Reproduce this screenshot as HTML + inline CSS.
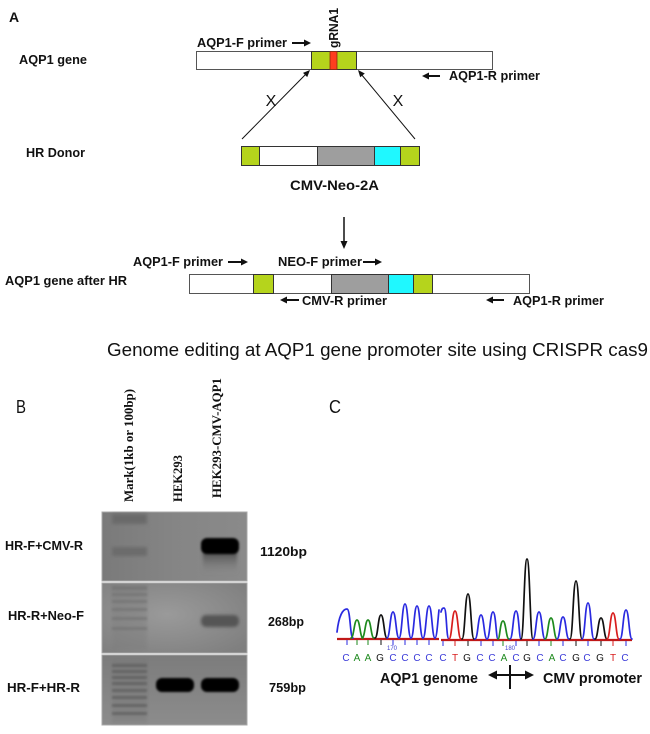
<!DOCTYPE html>
<html>
<head>
<meta charset="utf-8">
<style>
  html,body{margin:0;padding:0;background:#fff;}
  svg{display:block;}
  .b{font-family:"Liberation Sans",Arial,sans-serif;font-weight:bold;fill:#111;}
  .r{font-family:"Liberation Sans",Arial,sans-serif;fill:#111;}
  .s{font-family:"Liberation Serif","Times New Roman",serif;font-weight:bold;fill:#111;}
</style>
</head>
<body>
<svg width="650" height="734" viewBox="0 0 650 734" xmlns="http://www.w3.org/2000/svg">
  <defs>
    <filter id="bl1" x="-20%" y="-50%" width="140%" height="200%"><feGaussianBlur stdDeviation="1"/></filter>
    <filter id="bl2" x="-20%" y="-50%" width="140%" height="200%"><feGaussianBlur stdDeviation="1.6"/></filter>
    <filter id="bl3" x="-20%" y="-50%" width="140%" height="200%"><feGaussianBlur stdDeviation="2.5"/></filter>
    <linearGradient id="g1" x1="0" y1="0" x2="1" y2="0">
      <stop offset="0" stop-color="#7a7a7a"/><stop offset="0.5" stop-color="#858585"/><stop offset="1" stop-color="#8a8a8a"/>
    </linearGradient>
    <radialGradient id="g2" cx="0.45" cy="0.45" r="0.7">
      <stop offset="0" stop-color="#9a9a9a"/><stop offset="1" stop-color="#7f7f7f"/>
    </radialGradient>
    <linearGradient id="g3" x1="0" y1="0" x2="0" y2="1">
      <stop offset="0" stop-color="#7c7c7c"/><stop offset="1" stop-color="#8c8c8c"/>
    </linearGradient>
    <linearGradient id="smear" x1="0" y1="0" x2="0" y2="1">
      <stop offset="0" stop-color="#404040"/><stop offset="1" stop-color="#828282" stop-opacity="0"/>
    </linearGradient>
  </defs>

  <!-- ===== Panel A ===== -->
  <text class="b" x="9" y="22" font-size="14">A</text>
  <text class="b" x="19" y="64" font-size="12.5" textLength="68" lengthAdjust="spacingAndGlyphs">AQP1 gene</text>
  <text class="b" x="197" y="47" font-size="12.5" textLength="90" lengthAdjust="spacingAndGlyphs">AQP1-F primer</text>
  <line x1="292" y1="43" x2="305" y2="43" stroke="#111" stroke-width="2"/>
  <polygon points="304,39.5 311,43 304,46.5" fill="#111"/>
  <text class="b" transform="translate(338,48) rotate(-90)" font-size="12.5" textLength="40" lengthAdjust="spacingAndGlyphs">gRNA1</text>

  <rect x="196.5" y="51.5" width="296" height="18" fill="#fff" stroke="#555" stroke-width="1"/>
  <rect x="311.5" y="51.5" width="45" height="18" fill="#b5d41c" stroke="#333" stroke-width="1"/>
  <rect x="330" y="51.5" width="7" height="18" fill="#ff3d1f" stroke="#8a2a10" stroke-width="0.8"/>

  <line x1="428" y1="76" x2="440" y2="76" stroke="#111" stroke-width="2"/>
  <polygon points="429,72.5 422,76 429,79.5" fill="#111"/>
  <text class="b" x="449" y="80" font-size="12.5" textLength="91" lengthAdjust="spacingAndGlyphs">AQP1-R primer</text>

  <text class="r" x="271" y="106" font-size="16" text-anchor="middle">X</text>
  <text class="r" x="398" y="106" font-size="16" text-anchor="middle">X</text>
  <line x1="242" y1="139" x2="306" y2="74" stroke="#111" stroke-width="1"/>
  <polygon points="310,70 307.2,77.1 303,72.9" fill="#111"/>
  <line x1="415" y1="139" x2="361" y2="74" stroke="#111" stroke-width="1"/>
  <polygon points="358,70 364.8,73.5 360.2,77.3" fill="#111"/>

  <text class="b" x="26" y="157" font-size="12.5" textLength="59" lengthAdjust="spacingAndGlyphs">HR Donor</text>
  <g stroke="#333" stroke-width="1">
    <rect x="241.5" y="146.5" width="18" height="19" fill="#b5d41c"/>
    <rect x="259.5" y="146.5" width="58" height="19" fill="#fff"/>
    <rect x="317.5" y="146.5" width="57" height="19" fill="#9e9e9e"/>
    <rect x="374.5" y="146.5" width="26" height="19" fill="#1ff8ff"/>
    <rect x="400.5" y="146.5" width="19" height="19" fill="#b5d41c"/>
  </g>
  <text class="b" x="290" y="190" font-size="14" textLength="89" lengthAdjust="spacingAndGlyphs">CMV-Neo-2A</text>

  <line x1="344" y1="217" x2="344" y2="242" stroke="#111" stroke-width="1.5"/>
  <polygon points="340.5,241 344,249 347.5,241" fill="#111"/>

  <text class="b" x="133" y="266" font-size="12.5" textLength="90" lengthAdjust="spacingAndGlyphs">AQP1-F primer</text>
  <line x1="228" y1="262" x2="242" y2="262" stroke="#111" stroke-width="2"/>
  <polygon points="241,258.5 248,262 241,265.5" fill="#111"/>
  <text class="b" x="278" y="266" font-size="12.5" textLength="84" lengthAdjust="spacingAndGlyphs">NEO-F primer</text>
  <line x1="363" y1="262" x2="376" y2="262" stroke="#111" stroke-width="2"/>
  <polygon points="375,258.5 382,262 375,265.5" fill="#111"/>

  <text class="b" x="5" y="285" font-size="12.5" textLength="122" lengthAdjust="spacingAndGlyphs">AQP1 gene after HR</text>
  <g stroke="#333" stroke-width="1">
    <rect x="189.5" y="274.5" width="340" height="19" fill="#fff" stroke="#555"/>
    <rect x="253.5" y="274.5" width="20" height="19" fill="#b5d41c"/>
    <rect x="331.5" y="274.5" width="57" height="19" fill="#9e9e9e"/>
    <rect x="388.5" y="274.5" width="25" height="19" fill="#1ff8ff"/>
    <rect x="413.5" y="274.5" width="19" height="19" fill="#b5d41c"/>
  </g>

  <line x1="286" y1="300" x2="299" y2="300" stroke="#111" stroke-width="2"/>
  <polygon points="287,296.5 280,300 287,303.5" fill="#111"/>
  <text class="b" x="302" y="305" font-size="12.5" textLength="85" lengthAdjust="spacingAndGlyphs">CMV-R primer</text>
  <line x1="492" y1="300" x2="504" y2="300" stroke="#111" stroke-width="2"/>
  <polygon points="493,296.5 486,300 493,303.5" fill="#111"/>
  <text class="b" x="513" y="305" font-size="12.5" textLength="91" lengthAdjust="spacingAndGlyphs">AQP1-R primer</text>

  <text class="r" x="107" y="356" font-size="18" textLength="541" lengthAdjust="spacingAndGlyphs">Genome editing at AQP1 gene promoter site using CRISPR cas9</text>

  <!-- ===== Panel B ===== -->
  <text class="r" x="16" y="413" font-size="18" textLength="10" lengthAdjust="spacingAndGlyphs">B</text>
  <text class="s" transform="translate(133,502) rotate(-90)" font-size="13" textLength="113" lengthAdjust="spacingAndGlyphs">Mark(1kb or 100bp)</text>
  <text class="s" transform="translate(182,502) rotate(-90)" font-size="13" textLength="47" lengthAdjust="spacingAndGlyphs">HEK293</text>
  <text class="s" transform="translate(221,498) rotate(-90)" font-size="13" textLength="120" lengthAdjust="spacingAndGlyphs">HEK293-CMV-AQP1</text>

  <!-- gel panels -->
  <rect x="102" y="512" width="145" height="69" fill="url(#g1)" stroke="#a8a8a8" stroke-width="1"/>
  <rect x="102" y="583" width="145" height="70" fill="url(#g2)" stroke="#a8a8a8" stroke-width="1"/>
  <rect x="102" y="655" width="145" height="70" fill="url(#g3)" stroke="#a8a8a8" stroke-width="1"/>

  <!-- panel 1 bands -->
  <rect x="112" y="514" width="35" height="10" fill="#6a6a6a" filter="url(#bl2)"/>
  <rect x="112" y="547" width="35" height="9" fill="#6c6c6c" filter="url(#bl2)"/>
  <rect x="203" y="550" width="34" height="24" fill="url(#smear)" filter="url(#bl2)"/>
  <rect x="201" y="538" width="38" height="16" rx="6" fill="#060606" filter="url(#bl1)"/>

  <!-- panel 2 bands -->
  <g fill="#707070" opacity="0.7" filter="url(#bl1)">
    <rect x="112" y="586" width="35" height="4"/>
    <rect x="112" y="593" width="35" height="3"/>
    <rect x="112" y="600" width="35" height="3"/>
    <rect x="112" y="608" width="35" height="3"/>
    <rect x="112" y="617" width="35" height="3"/>
    <rect x="112" y="627" width="35" height="3"/>
  </g>
  <rect x="112" y="585" width="35" height="65" fill="#7a7a7a" opacity="0.35" filter="url(#bl2)"/>
  <rect x="201" y="615" width="38" height="12" rx="5" fill="#555" filter="url(#bl2)"/>

  <!-- panel 3 bands -->
  <rect x="112" y="658" width="35" height="65" fill="#777" opacity="0.35" filter="url(#bl2)"/>
  <g fill="#5e5e5e" opacity="0.8" filter="url(#bl1)">
    <rect x="112" y="664" width="35" height="3"/>
    <rect x="112" y="670" width="35" height="3"/>
    <rect x="112" y="676" width="35" height="3"/>
    <rect x="112" y="682" width="35" height="3"/>
    <rect x="112" y="689" width="35" height="3"/>
    <rect x="112" y="696" width="35" height="3"/>
    <rect x="112" y="704" width="35" height="3"/>
    <rect x="112" y="712" width="35" height="3"/>
  </g>
  <rect x="156" y="678" width="38" height="14" rx="6" fill="#050505" filter="url(#bl1)"/>
  <rect x="201" y="678" width="38" height="14" rx="6" fill="#050505" filter="url(#bl1)"/>

  <text class="b" x="5" y="550" font-size="13" textLength="78" lengthAdjust="spacingAndGlyphs">HR-F+CMV-R</text>
  <text class="b" x="8" y="620" font-size="13" textLength="76" lengthAdjust="spacingAndGlyphs">HR-R+Neo-F</text>
  <text class="b" x="7" y="692" font-size="13" textLength="73" lengthAdjust="spacingAndGlyphs">HR-F+HR-R</text>
  <text class="b" x="260" y="556" font-size="13" textLength="47" lengthAdjust="spacingAndGlyphs">1120bp</text>
  <text class="b" x="268" y="626" font-size="13" textLength="36" lengthAdjust="spacingAndGlyphs">268bp</text>
  <text class="b" x="269" y="692" font-size="13" textLength="37" lengthAdjust="spacingAndGlyphs">759bp</text>

  <!-- ===== Panel C ===== -->
  <text class="r" x="329" y="413" font-size="18" textLength="12" lengthAdjust="spacingAndGlyphs">C</text>

  <!-- baselines -->
  <line x1="337" y1="639" x2="439" y2="639" stroke="#c01818" stroke-width="2.2"/>
  <line x1="441" y1="640" x2="632" y2="640" stroke="#c01818" stroke-width="2.2"/>

  <!-- peaks -->
  <g fill="none" stroke-width="1.7" stroke-linejoin="round" stroke-linecap="round">
    <path d="M337,632 C339,615 343,609 347,609 C350.5,609 350,638 353,638" stroke="#2a2ae0"/>
    <path d="M351,638 C354,638 354,620 357,620 C360,620 360,638 363,638" stroke="#1e8a1e"/>
    <path d="M362,638 C365,638 365,620 368,620 C371,620 371,638 374,638" stroke="#1e8a1e"/>
    <path d="M375,638 C378,638 378,615 381,615 C384,615 384,638 387,638" stroke="#111"/>
    <path d="M387,638 C390,638 390,612 393,612 C396,612 396,638 399,638" stroke="#2a2ae0"/>
    <path d="M399,638 C402,638 402,604 405,604 C408,604 408,638 411,638" stroke="#2a2ae0"/>
    <path d="M411,638 C414,638 414,606 417,606 C420,606 420,638 423,638" stroke="#2a2ae0"/>
    <path d="M423,638 C426,638 426,606 429,606 C432,606 432,638 435,638" stroke="#2a2ae0"/>
    <path d="M435,638 C437,638 438,618 439,610" stroke="#2a2ae0"/>
    <path d="M441,612 C442,608 443,608 444,608 C447,608 446,639 449,639" stroke="#2a2ae0"/>
    <path d="M449,639 C452,639 452,611 455,611 C458,611 458,639 461,639" stroke="#d81e1e"/>
    <path d="M462,639 C465,639 465,594 468,594 C471,594 471,639 474,639" stroke="#111"/>
    <path d="M475,639 C478,639 478,615 481,615 C484,615 484,639 487,639" stroke="#2a2ae0"/>
    <path d="M487,639 C490,639 490,612 493,612 C496,612 496,639 498,639" stroke="#2a2ae0"/>
    <path d="M498,639 C500,639 500,621 503,621 C506,621 506,639 509,639" stroke="#1e8a1e"/>
    <path d="M510,639 C513,639 513,611 516,611 C519,611 519,639 521,639" stroke="#2a2ae0"/>
    <path d="M521,639 C524,639 524,559 527,559 C530,559 530,639 533,639" stroke="#111"/>
    <path d="M533,639 C536,639 536,612 539,612 C542,612 542,639 545,639" stroke="#2a2ae0"/>
    <path d="M545,639 C548,639 548,618 551,618 C554,618 554,639 557,639" stroke="#1e8a1e"/>
    <path d="M557,639 C560,639 560,617 563,617 C566,617 566,639 569,639" stroke="#2a2ae0"/>
    <path d="M570,639 C573,639 573,581 576,581 C579,581 579,639 582,639" stroke="#111"/>
    <path d="M582,639 C585,639 585,603 588,603 C591,603 591,639 594,639" stroke="#2a2ae0"/>
    <path d="M595,639 C598,639 598,618 601,618 C604,618 604,639 607,639" stroke="#111"/>
    <path d="M607,639 C610,639 610,613 613,613 C616,613 616,639 619,639" stroke="#d81e1e"/>
    <path d="M620,639 C623,639 623,610 626,610 C629,610 629,639 632,639" stroke="#2a2ae0"/>
  </g>

  <!-- ticks -->
  <g stroke-width="1">
    <line x1="347" y1="640" x2="347" y2="645" stroke="#2a2ae0"/>
    <line x1="357" y1="640" x2="357" y2="645" stroke="#1e8a1e"/>
    <line x1="368" y1="640" x2="368" y2="645" stroke="#1e8a1e"/>
    <line x1="381" y1="640" x2="381" y2="645" stroke="#111"/>
    <line x1="393" y1="640" x2="393" y2="645" stroke="#2a2ae0"/>
    <line x1="405" y1="640" x2="405" y2="645" stroke="#2a2ae0"/>
    <line x1="417" y1="640" x2="417" y2="645" stroke="#2a2ae0"/>
    <line x1="429" y1="640" x2="429" y2="645" stroke="#2a2ae0"/>
    <line x1="443" y1="641" x2="443" y2="646" stroke="#2a2ae0"/>
    <line x1="455" y1="641" x2="455" y2="646" stroke="#d81e1e"/>
    <line x1="468" y1="641" x2="468" y2="646" stroke="#111"/>
    <line x1="481" y1="641" x2="481" y2="646" stroke="#2a2ae0"/>
    <line x1="493" y1="641" x2="493" y2="646" stroke="#2a2ae0"/>
    <line x1="503" y1="641" x2="503" y2="646" stroke="#1e8a1e"/>
    <line x1="516" y1="641" x2="516" y2="646" stroke="#2a2ae0"/>
    <line x1="527" y1="641" x2="527" y2="646" stroke="#111"/>
    <line x1="539" y1="641" x2="539" y2="646" stroke="#2a2ae0"/>
    <line x1="551" y1="641" x2="551" y2="646" stroke="#1e8a1e"/>
    <line x1="563" y1="641" x2="563" y2="646" stroke="#2a2ae0"/>
    <line x1="576" y1="641" x2="576" y2="646" stroke="#111"/>
    <line x1="588" y1="641" x2="588" y2="646" stroke="#2a2ae0"/>
    <line x1="601" y1="641" x2="601" y2="646" stroke="#111"/>
    <line x1="613" y1="641" x2="613" y2="646" stroke="#d81e1e"/>
    <line x1="626" y1="641" x2="626" y2="646" stroke="#2a2ae0"/>
  </g>
  <text x="392" y="650" font-family="Liberation Sans, sans-serif" font-size="6" fill="#4040d0" text-anchor="middle">170</text>
  <text x="510" y="650" font-family="Liberation Sans, sans-serif" font-size="6" fill="#4040d0" text-anchor="middle">180</text>

  <!-- base letters -->
  <g font-family="Liberation Sans, sans-serif" font-size="10" text-anchor="middle">
    <text x="346" y="661" fill="#3a3ad8">C</text>
    <text x="357" y="661" fill="#1e8a1e">A</text>
    <text x="368" y="661" fill="#1e8a1e">A</text>
    <text x="380" y="661" fill="#111">G</text>
    <text x="393" y="661" fill="#3a3ad8">C</text>
    <text x="405" y="661" fill="#3a3ad8">C</text>
    <text x="417" y="661" fill="#3a3ad8">C</text>
    <text x="429" y="661" fill="#3a3ad8">C</text>
    <text x="443" y="661" fill="#3a3ad8">C</text>
    <text x="455" y="661" fill="#d81e1e">T</text>
    <text x="467" y="661" fill="#111">G</text>
    <text x="480" y="661" fill="#3a3ad8">C</text>
    <text x="492" y="661" fill="#3a3ad8">C</text>
    <text x="504" y="661" fill="#1e8a1e">A</text>
    <text x="516" y="661" fill="#3a3ad8">C</text>
    <text x="527" y="661" fill="#111">G</text>
    <text x="540" y="661" fill="#3a3ad8">C</text>
    <text x="552" y="661" fill="#1e8a1e">A</text>
    <text x="563" y="661" fill="#3a3ad8">C</text>
    <text x="576" y="661" fill="#111">G</text>
    <text x="587" y="661" fill="#3a3ad8">C</text>
    <text x="600" y="661" fill="#111">G</text>
    <text x="613" y="661" fill="#d81e1e">T</text>
    <text x="625" y="661" fill="#3a3ad8">C</text>
  </g>

  <text class="b" x="380" y="683" font-size="15" textLength="98" lengthAdjust="spacingAndGlyphs">AQP1 genome</text>
  <text class="b" x="543" y="683" font-size="15" textLength="99" lengthAdjust="spacingAndGlyphs">CMV promoter</text>
  <line x1="495" y1="675" x2="527" y2="675" stroke="#111" stroke-width="2"/>
  <polygon points="488,675 497,670.5 497,679.5" fill="#111"/>
  <polygon points="534,675 525,670.5 525,679.5" fill="#111"/>
  <line x1="510" y1="665" x2="510" y2="689" stroke="#111" stroke-width="2"/>
</svg>
</body>
</html>
